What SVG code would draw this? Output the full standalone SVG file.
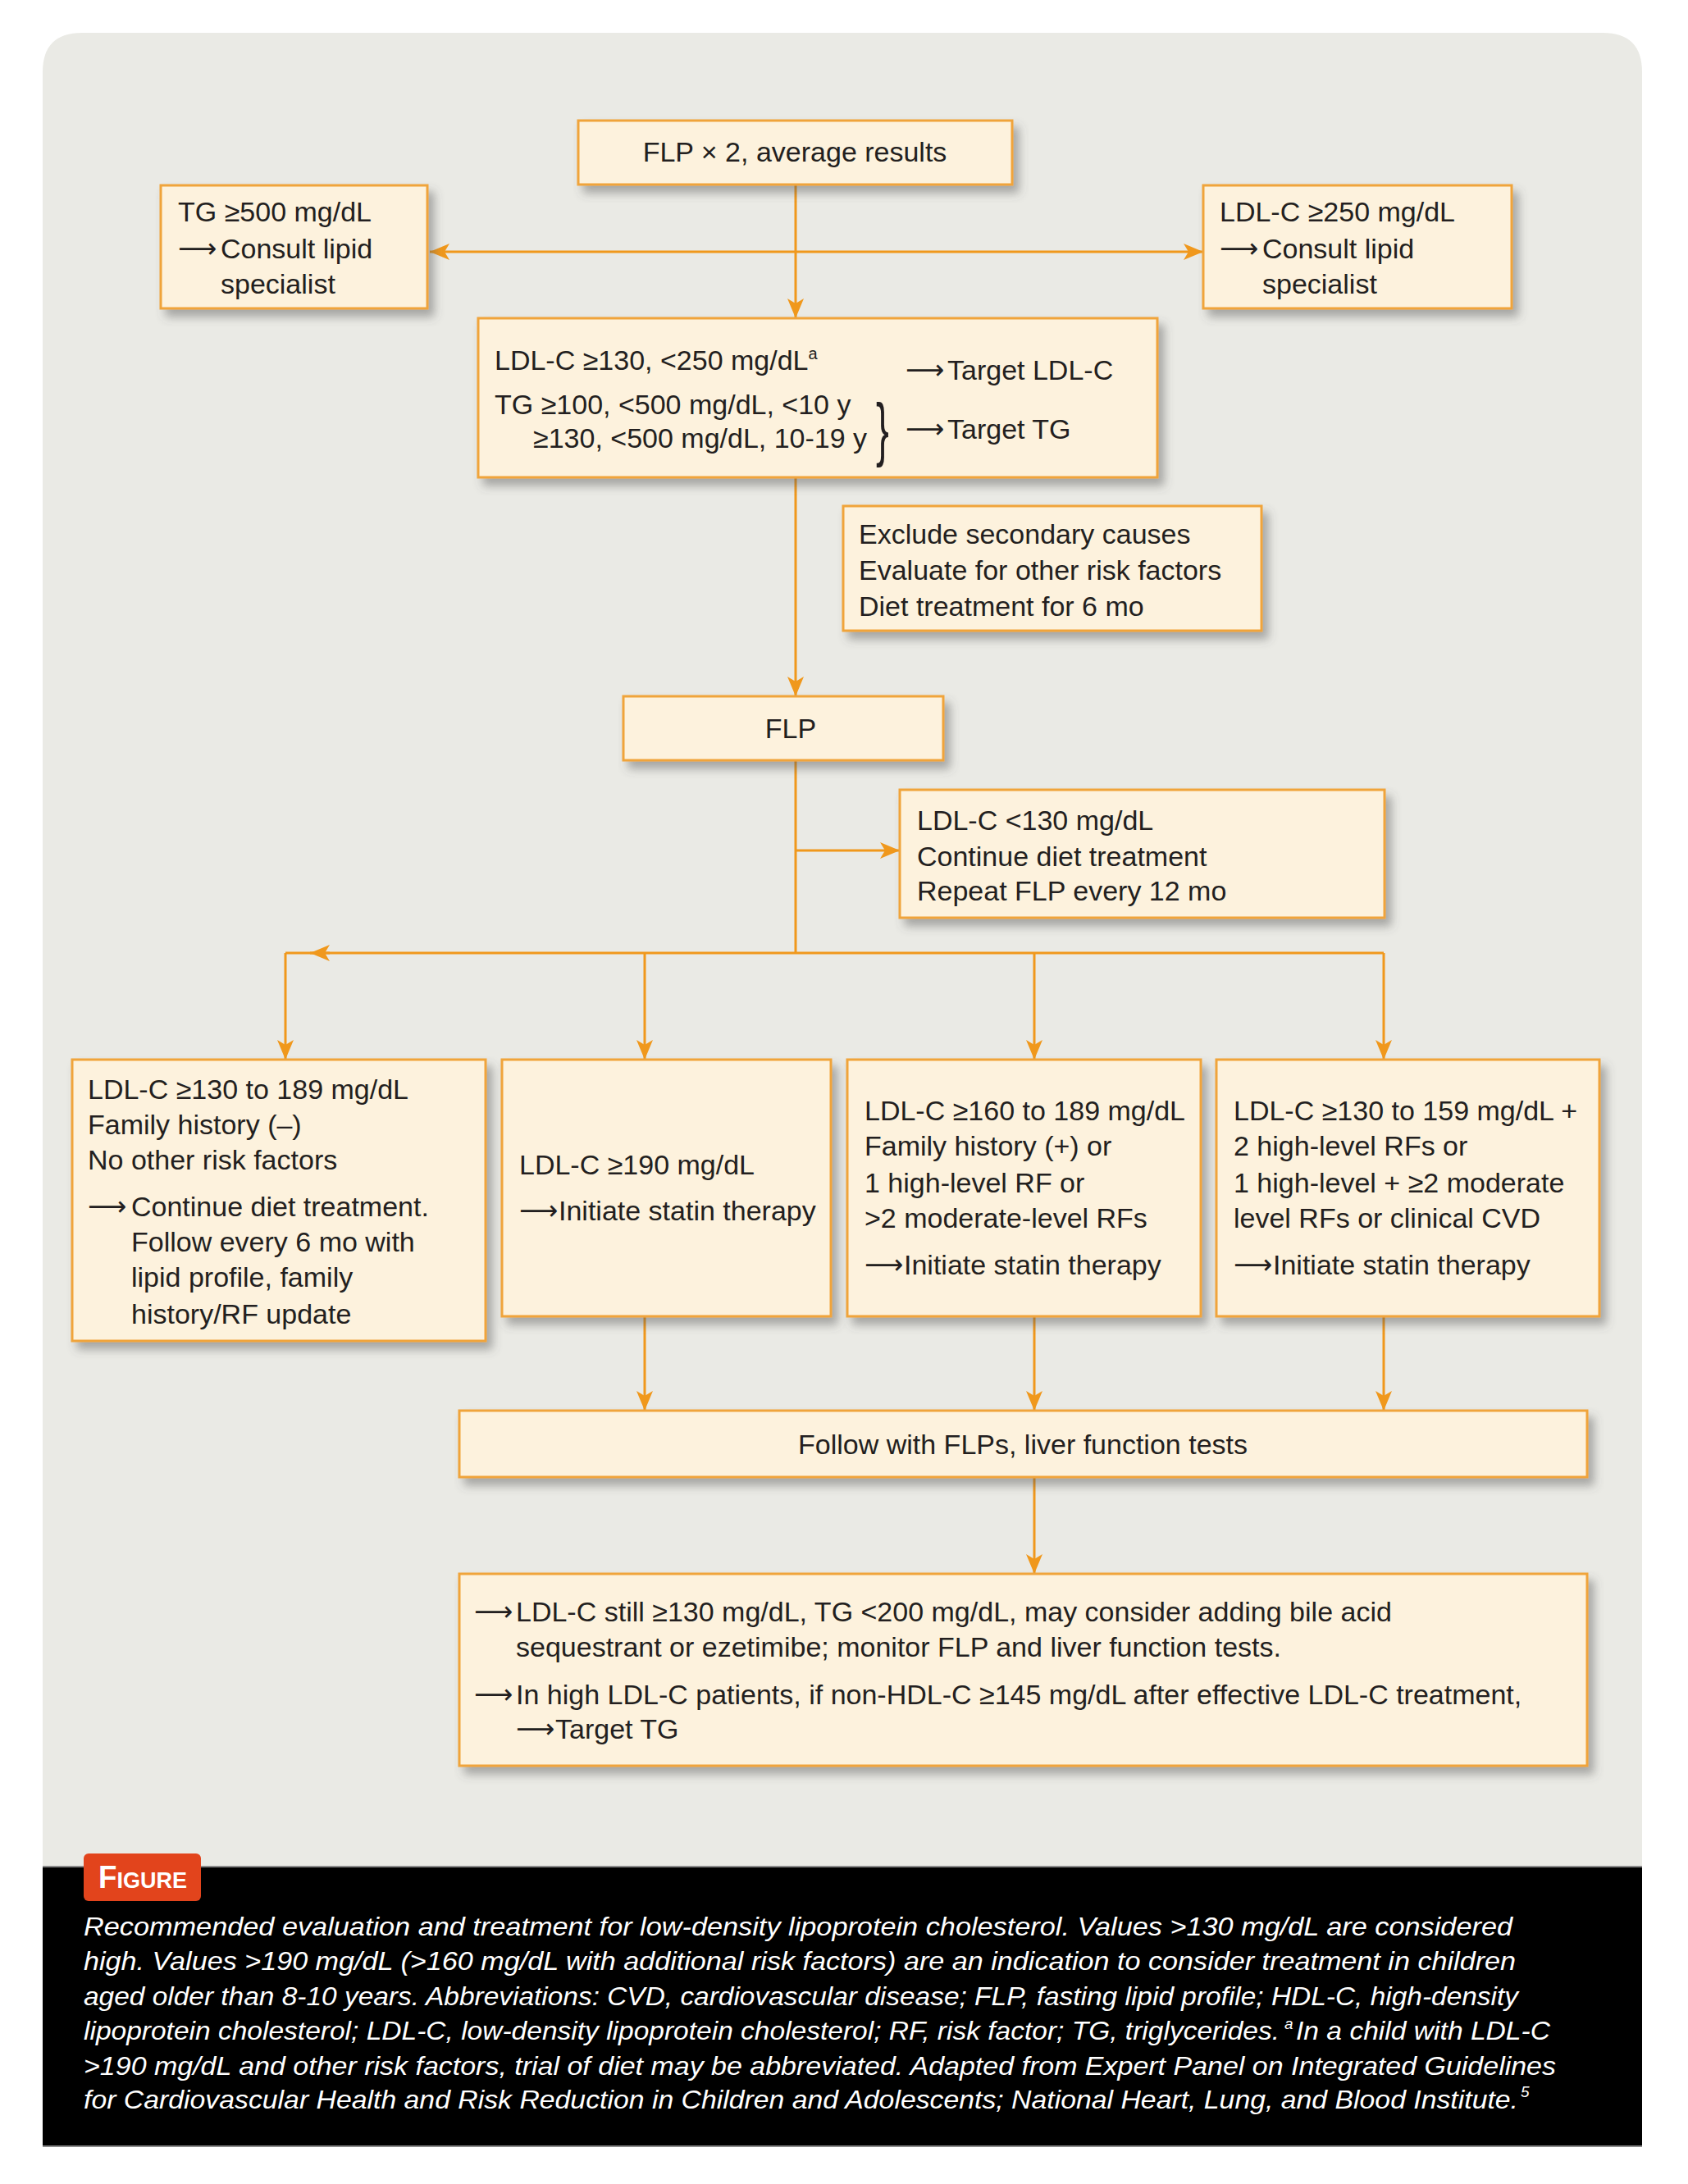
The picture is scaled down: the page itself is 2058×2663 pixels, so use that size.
<svg xmlns="http://www.w3.org/2000/svg" width="2058" height="2663" viewBox="0 0 2058 2663">
<defs>
<style>
.box{fill:#fdf2dd;stroke:#f0a43a;stroke-width:3;filter:url(#sh)}
.t{font-family:"Liberation Sans",Arial,sans-serif;font-size:34px;fill:#231f20}
.ar{font-family:"DejaVu Sans","Liberation Sans",sans-serif;font-size:33px;fill:#231f20}
.c{fill:none;stroke:#f0981c;stroke-width:3}
.cap{font-family:"Liberation Sans",Arial,sans-serif;font-size:32px;font-style:italic;fill:#ffffff}
.sup{font-family:"Liberation Sans",Arial,sans-serif;font-size:19px;font-style:italic;fill:#ffffff}
</style>
<filter id="sh" x="-10%" y="-10%" width="130%" height="140%">
<feDropShadow dx="7" dy="9" stdDeviation="6" flood-color="#555" flood-opacity="0.45"/>
</filter>
<marker id="ah" viewBox="0 0 24 20" refX="24" refY="10" markerWidth="24" markerHeight="20" markerUnits="userSpaceOnUse" orient="auto-start-reverse">
<path d="M0,0 L24,10 L0,20 L6,10 Z" fill="#f0981c"/>
</marker>
</defs>
<rect width="2058" height="2663" fill="#ffffff"/>
<path d="M52,2276 L52,88 Q52,40 100,40 L1954,40 Q2002,40 2002,88 L2002,2276 Z" fill="#eaeae5"/>
<rect x="52" y="2276" width="1950" height="341" fill="#000000"/>
<line x1="52" y1="2276" x2="2002" y2="2276" stroke="#8a8a8a" stroke-width="2"/>
<line x1="52" y1="2617" x2="2002" y2="2617" stroke="#8a8a8a" stroke-width="2"/>

<g id="connectors">
<path class="c" d="M970,225 V388" marker-end="url(#ah)"/>
<path class="c" d="M524,307 H1467" marker-start="url(#ah)" marker-end="url(#ah)"/>
<path class="c" d="M970,582 V849" marker-end="url(#ah)"/>
<path class="c" d="M970,927 V1162"/>
<path class="c" d="M970,1037 H1097" marker-end="url(#ah)"/>
<path class="c" d="M348,1162 H1687"/>
<path class="c" d="M402,1162 H378" marker-end="url(#ah)"/>
<path class="c" d="M348,1162 V1292" marker-end="url(#ah)"/>
<path class="c" d="M786,1162 V1292" marker-end="url(#ah)"/>
<path class="c" d="M1261,1162 V1292" marker-end="url(#ah)"/>
<path class="c" d="M1687,1162 V1292" marker-end="url(#ah)"/>
<path class="c" d="M786,1605 V1720" marker-end="url(#ah)"/>
<path class="c" d="M1261,1605 V1720" marker-end="url(#ah)"/>
<path class="c" d="M1687,1605 V1720" marker-end="url(#ah)"/>
<path class="c" d="M1261,1801 V1919" marker-end="url(#ah)"/>
</g>

<g id="flp2">
<rect class="box" x="705" y="147" width="529" height="78"/>
<text class="t" x="969" y="197" text-anchor="middle">FLP × 2, average results</text>
</g>

<g id="tg500">
<rect class="box" x="196" y="226" width="325" height="150"/>
<text class="t" x="217" y="270">TG ≥500 mg/dL</text>
<text class="ar" x="217" y="314">⟶</text>
<text class="t" x="269" y="315">Consult lipid</text>
<text class="t" x="269" y="358">specialist</text>
</g>

<g id="ldl250">
<rect class="box" x="1467" y="226" width="376" height="150"/>
<text class="t" x="1487" y="270">LDL-C ≥250 mg/dL</text>
<text class="ar" x="1487" y="314">⟶</text>
<text class="t" x="1539" y="315">Consult lipid</text>
<text class="t" x="1539" y="358">specialist</text>
</g>

<g id="ldlmain">
<rect class="box" x="583" y="388" width="828" height="194"/>
<text class="t" x="603" y="451">LDL-C ≥130, &lt;250 mg/dL<tspan style="font-size:20px" dy="-13">a</tspan></text>
<text class="ar" x="1104" y="462">⟶</text>
<text class="t" x="1155" y="463">Target LDL-C</text>
<text class="t" x="603" y="505">TG ≥100, &lt;500 mg/dL, &lt;10 y</text>
<text class="t" x="650" y="546">≥130, &lt;500 mg/dL, 10-19 y</text>
<text class="t" x="0" y="0" style="font-size:86px" transform="translate(1068,552) scale(0.55,1)">}</text>
<text class="ar" x="1104" y="534">⟶</text>
<text class="t" x="1155" y="535">Target TG</text>
</g>

<g id="exclude">
<rect class="box" x="1028" y="617" width="510" height="152"/>
<text class="t" x="1047" y="663">Exclude secondary causes</text>
<text class="t" x="1047" y="707">Evaluate for other risk factors</text>
<text class="t" x="1047" y="751">Diet treatment for 6 mo</text>
</g>

<g id="flp">
<rect class="box" x="760" y="849" width="390" height="78"/>
<text class="t" x="964" y="900" text-anchor="middle">FLP</text>
</g>

<g id="ldl130">
<rect class="box" x="1097" y="963" width="591" height="156"/>
<text class="t" x="1118" y="1012">LDL-C &lt;130 mg/dL</text>
<text class="t" x="1118" y="1056">Continue diet treatment</text>
<text class="t" x="1118" y="1098">Repeat FLP every 12 mo</text>
</g>

<g id="box1">
<rect class="box" x="88" y="1292" width="504" height="343"/>
<text class="t" x="107" y="1340">LDL-C ≥130 to 189 mg/dL</text>
<text class="t" x="107" y="1383">Family history (–)</text>
<text class="t" x="107" y="1426">No other risk factors</text>
<text class="ar" x="107" y="1482">⟶</text>
<text class="t" x="160" y="1483">Continue diet treatment.</text>
<text class="t" x="160" y="1526">Follow every 6 mo with</text>
<text class="t" x="160" y="1569">lipid profile, family</text>
<text class="t" x="160" y="1614">history/RF update</text>
</g>

<g id="box2">
<rect class="box" x="612" y="1292" width="401" height="313"/>
<text class="t" x="633" y="1432">LDL-C ≥190 mg/dL</text>
<text class="ar" x="633" y="1487">⟶</text>
<text class="t" x="681" y="1488">Initiate statin therapy</text>
</g>

<g id="box3">
<rect class="box" x="1033" y="1292" width="431" height="313"/>
<text class="t" x="1054" y="1366">LDL-C ≥160 to 189 mg/dL</text>
<text class="t" x="1054" y="1409">Family history (+) or</text>
<text class="t" x="1054" y="1454">1 high-level RF or</text>
<text class="t" x="1054" y="1497">&gt;2 moderate-level RFs</text>
<text class="ar" x="1054" y="1553">⟶</text>
<text class="t" x="1102" y="1554">Initiate statin therapy</text>
</g>

<g id="box4">
<rect class="box" x="1483" y="1292" width="467" height="313"/>
<text class="t" x="1504" y="1366">LDL-C ≥130 to 159 mg/dL +</text>
<text class="t" x="1504" y="1409">2 high-level RFs or</text>
<text class="t" x="1504" y="1454">1 high-level + ≥2 moderate</text>
<text class="t" x="1504" y="1497">level RFs or clinical CVD</text>
<text class="ar" x="1504" y="1553">⟶</text>
<text class="t" x="1552" y="1554">Initiate statin therapy</text>
</g>

<g id="follow">
<rect class="box" x="560" y="1720" width="1375" height="81"/>
<text class="t" x="1247" y="1773" text-anchor="middle">Follow with FLPs, liver function tests</text>
</g>

<g id="final">
<rect class="box" x="560" y="1919" width="1375" height="234"/>
<text class="ar" x="578" y="1976">⟶</text>
<text class="t" x="629" y="1977">LDL-C still ≥130 mg/dL, TG &lt;200 mg/dL, may consider adding bile acid</text>
<text class="t" x="629" y="2020">sequestrant or ezetimibe; monitor FLP and liver function tests.</text>
<text class="ar" x="578" y="2077">⟶</text>
<text class="t" x="629" y="2078">In high LDL-C patients, if non-HDL-C ≥145 mg/dL after effective LDL-C treatment,</text>
<text class="ar" x="629" y="2119">⟶</text>
<text class="t" x="677" y="2120">Target TG</text>
</g>

<g id="caption">
<rect x="102" y="2260" width="143" height="58" rx="6" fill="#e2441c"/>
<text x="120" y="2302" font-family="'Liberation Sans',Arial,sans-serif" font-weight="bold" fill="#ffffff" textLength="108" lengthAdjust="spacingAndGlyphs"><tspan font-size="38">F</tspan><tspan font-size="28">IGURE</tspan></text>
<text class="cap" x="102" y="2360" textLength="1742" lengthAdjust="spacingAndGlyphs">Recommended evaluation and treatment for low-density lipoprotein cholesterol. Values &gt;130 mg/dL are considered</text>
<text class="cap" x="102" y="2402" textLength="1746" lengthAdjust="spacingAndGlyphs">high. Values &gt;190 mg/dL (&gt;160 mg/dL with additional risk factors) are an indication to consider treatment in children</text>
<text class="cap" x="102" y="2445" textLength="1749" lengthAdjust="spacingAndGlyphs">aged older than 8-10 years. Abbreviations: CVD, cardiovascular disease; FLP, fasting lipid profile; HDL-C, high-density</text>
<text class="cap" x="102" y="2487" textLength="1458" lengthAdjust="spacingAndGlyphs">lipoprotein cholesterol; LDL-C, low-density lipoprotein cholesterol; RF, risk factor; TG, triglycerides.</text>
<text class="sup" x="1566" y="2474">a</text>
<text class="cap" x="1580" y="2487" textLength="310" lengthAdjust="spacingAndGlyphs">In a child with LDL-C</text>
<text class="cap" x="102" y="2530" textLength="1795" lengthAdjust="spacingAndGlyphs">&gt;190 mg/dL and other risk factors, trial of diet may be abbreviated. Adapted from Expert Panel on Integrated Guidelines</text>
<text class="cap" x="102" y="2571" textLength="1749" lengthAdjust="spacingAndGlyphs">for Cardiovascular Health and Risk Reduction in Children and Adolescents; National Heart, Lung, and Blood Institute.</text>
<text class="sup" x="1854" y="2557">5</text>
</g>
</svg>
